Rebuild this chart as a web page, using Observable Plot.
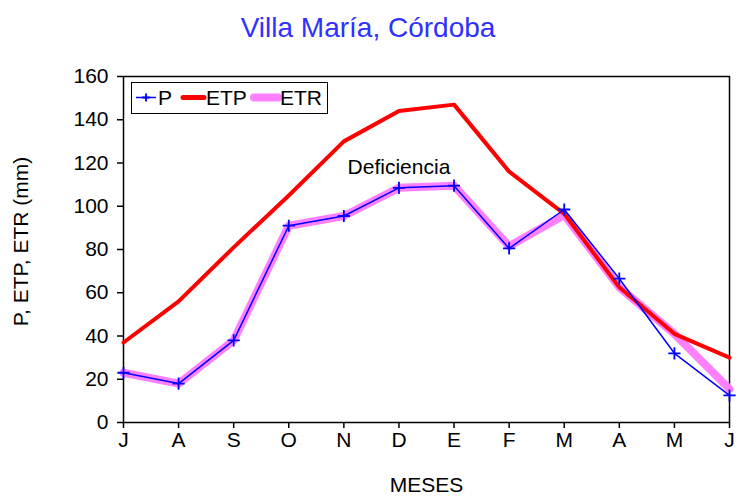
<!DOCTYPE html>
<html>
<head>
<meta charset="utf-8">
<script src="https://cdn.jsdelivr.net/npm/d3@7"></script>
<script src="https://cdn.jsdelivr.net/npm/@observablehq/plot@0.6"></script>
<style>
  body { margin: 0; background: #fff; font-family: "Liberation Sans", Arial, sans-serif; }
  #wrap { position: relative; width: 736px; height: 496px; }
  #title { position: absolute; left: 0; top: 0; width: 736px; height: 56px; line-height: 56px; text-align: center; color: #3030ff; font-size: 28px; }
  #chart { position: absolute; left: 0; top: 56px; }
  #legend { position: absolute; left: 131px; top: 82px; width: 197px; height: 32px; border: 1.5px solid #000; box-sizing: border-box; background: #fff; font-size: 21px; color: #000; }
  #legend .it { position: absolute; top: 0; height: 29px; line-height: 29px; }
</style>
</head>
<body>
<div id="wrap">
  <div id="title">Villa María, Córdoba</div>
  <div id="chart"></div>
  <div id="legend"></div>
</div>
<script>
const months = ["J","A","S","O","N","D","E","F","M","A","M","J"];
const P   = [23, 18, 38, 91, 95.5, 108.5, 109.5, 80.5, 98.5, 66.5, 32, 12.5];
const ETP = [37, 56, 81, 105, 130, 144, 147, 116, 96.5, 62.5, 41, 30];
const ETR = [23, 18, 38, 91, 95.5, 108.5, 109.5, 81.5, 96, 62.5, 41, 15.5];
const yTicks = [0, 20, 40, 60, 80, 100, 120, 140, 160];
const annotation = [{label: "Deficiencia", i: 5, v: 118}];

const idx = months.map((_, i) => i);
const rowsP = idx.map(i => ({i, v: P[i]}));
const rowsETP = idx.map(i => ({i, v: ETP[i]}));
const rowsETR = idx.map(i => ({i, v: ETR[i]}));

const colors = {P: "#0000ff", ETP: "#ff0000", ETR: "#ff80ff"};
const FS = 21;

const chart = Plot.plot({
  width: 736,
  height: 440,
  marginTop: 20,
  marginBottom: 74,
  marginLeft: 123,
  marginRight: 7,
  style: {fontFamily: "'Liberation Sans', Arial, sans-serif", fontSize: FS + "px", color: "#000", background: "#fff", overflow: "visible"},
  x: {domain: [0, 11], axis: null},
  y: {domain: [0, 160], axis: null},
  marks: [
    Plot.frame({stroke: "#000", strokeWidth: 1.5}),
    Plot.axisY({ticks: yTicks, tickSize: 6, tickPadding: 9, stroke: "#000", strokeWidth: 1.5, fontSize: FS, label: null}),
    Plot.text(["P, ETP, ETR (mm)"], {frameAnchor: "left", textAnchor: "middle", dx: -102, dy: -8, rotate: -90, fontSize: FS, fill: "#000"}),
    Plot.axisX({ticks: idx, tickFormat: i => months[i], tickSize: 6, tickPadding: 4, stroke: "#000", strokeWidth: 1.5, fontSize: FS, label: null}),
    Plot.text(["MESES"], {frameAnchor: "bottom", lineAnchor: "middle", dy: 63, fontSize: FS, fill: "#000"}),
    Plot.line(rowsETR, {x: "i", y: "v", stroke: colors.ETR, strokeWidth: 8, strokeLinejoin: "round"}),
    Plot.line(rowsETP, {x: "i", y: "v", stroke: colors.ETP, strokeWidth: 4, strokeLinejoin: "round"}),
    Plot.line(rowsP, {x: "i", y: "v", stroke: colors.P, strokeWidth: 1.5}),
    Plot.dot(rowsP, {x: "i", y: "v", symbol: "plus", r: 4, stroke: colors.P, strokeWidth: 1.8}),
    Plot.text(annotation, {x: "i", y: "v", text: "label", fontSize: FS, fill: "#000"})
  ]
});
document.getElementById("chart").appendChild(chart);

// legend
const legendItems = [
  {name: "P", color: colors.P, w: 1.5, marker: true, x0: 4, x1: 24, tx: 26},
  {name: "ETP", color: colors.ETP, w: 5, marker: false, x0: 51, x1: 72, tx: 74},
  {name: "ETR", color: colors.ETR, w: 8, marker: false, x0: 122, x1: 146, tx: 148}
];
const leg = document.getElementById("legend");
let svg = `<svg width="195" height="29" style="position:absolute;left:0;top:0">`;
legendItems.forEach(it => {
  svg += `<line x1="${it.x0}" y1="14.5" x2="${it.x1}" y2="14.5" stroke="${it.color}" stroke-width="${it.w}" stroke-linecap="${it.marker ? "butt" : "round"}"/>`;
  if (it.marker) { const c = (it.x0 + it.x1) / 2; svg += `<path d="M${c},10.5V18.5M${c-4},14.5H${c+4}" stroke="${it.color}" stroke-width="1.8"/>`; }
});
svg += `</svg>`;
leg.innerHTML = svg;
legendItems.forEach(it => {
  const s = document.createElement("span");
  s.className = "it";
  s.style.left = it.tx + "px";
  s.textContent = it.name;
  leg.appendChild(s);
});
</script>
</body>
</html>
